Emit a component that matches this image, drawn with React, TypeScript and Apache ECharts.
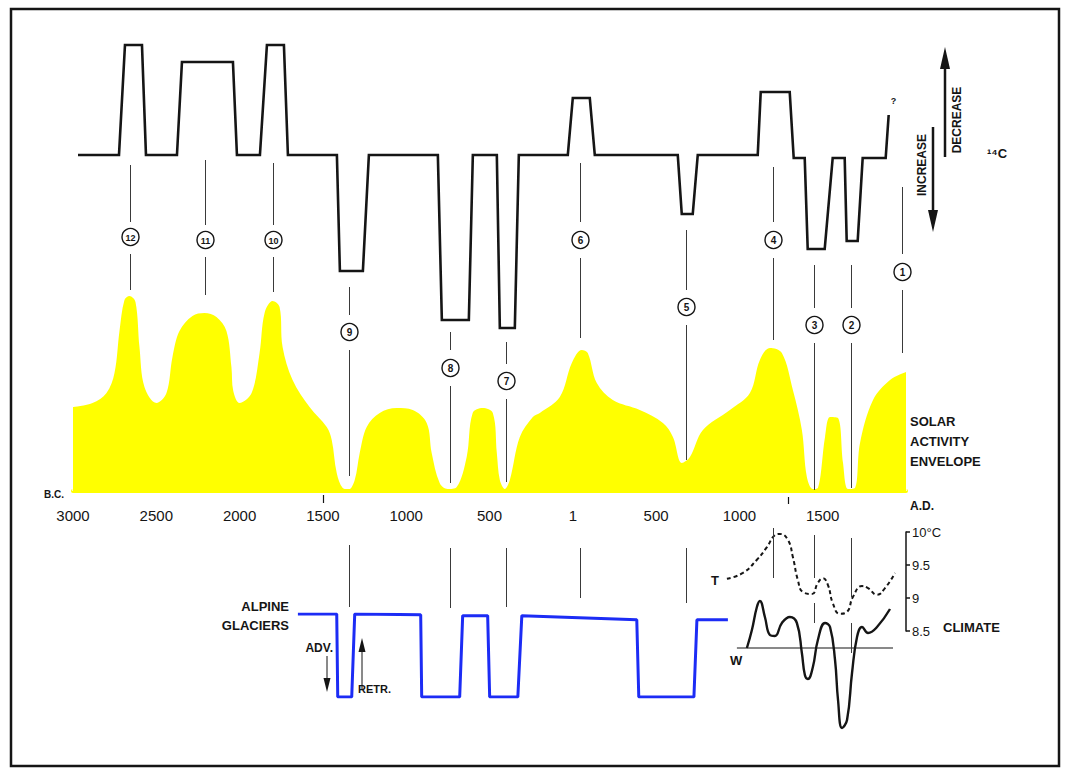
import React, { useEffect, useRef } from "react";
import * as echarts from "echarts";

// ---- Data -------------------------------------------------------------
// Years are signed (B.C. negative, A.D. positive).

// Radiocarbon (14C) deviation profile, arbitrary units (up = decrease in 14C)
const c14Profile: [number, number][] = [
  [-2970, 0], [-2724, 0], [-2688, 11], [-2586, 11], [-2562, 0],
  [-2376, 0], [-2346, 9.3], [-2040, 9.3], [-2016, 0],
  [-1878, 0], [-1836, 11], [-1734, 11], [-1710, 0],
  [-1416, 0], [-1398, -11.6], [-1260, -11.6], [-1224, 0],
  [-810, 0], [-786, -16.5], [-624, -16.5], [-600, 0],
  [-456, 0], [-438, -17.3], [-348, -17.3], [-324, 0],
  [-30, 0], [0, 5.7], [102, 5.7], [132, 0],
  [630, 0], [654, -5.9], [720, -5.9], [750, 0],
  [1110, 0], [1128, 6.3], [1302, 6.3], [1326, -0.3],
  [1392, -0.3], [1410, -9.4], [1512, -9.4], [1560, -0.3],
  [1632, -0.3], [1644, -8.6], [1710, -8.6], [1740, -0.3],
  [1878, -0.3], [1896, 4],
];

// Solar activity envelope (relative, 0–100)
const solarEnvelope: [number, number][] = [
  [-3000, 42], [-2883, 44], [-2799, 49], [-2751, 59], [-2721, 80], [-2691, 95.5],
  [-2661, 97.5], [-2625, 94.5], [-2601, 72], [-2571, 52], [-2499, 44], [-2439, 49],
  [-2403, 67], [-2361, 80], [-2283, 87.5], [-2211, 89], [-2139, 87], [-2079, 80],
  [-2049, 62], [-2038, 50], [-2000, 44], [-1928, 49], [-1880, 69], [-1850, 89],
  [-1802, 95], [-1760, 92], [-1742, 72], [-1682, 55.5], [-1580, 42], [-1477, 32],
  [-1447, 25.5], [-1417, 9], [-1381, 1.5], [-1345, 0.8], [-1309, 5.5], [-1279, 19],
  [-1237, 32], [-1159, 39], [-1057, 41.5], [-961, 40.5], [-877, 34], [-847, 19],
  [-799, 4], [-751, 1], [-697, 2], [-637, 17], [-601, 39], [-541, 41.5], [-480, 39],
  [-456, 19], [-438, 5.5], [-408, 1], [-378, 5.5], [-318, 27], [-240, 37], [-198, 39],
  [-78, 47], [-6, 64], [54, 70.5], [90, 69], [144, 54], [240, 45.5], [402, 40.5],
  [541, 34], [601, 27], [655, 14], [703, 17], [781, 30.5], [943, 40.5], [1063, 49],
  [1123, 65.5], [1183, 71.5], [1255, 69], [1321, 50.5], [1375, 30.5], [1405, 7],
  [1441, 1], [1471, 1.5], [1514, 27], [1544, 37], [1592, 36.5], [1622, 14],
  [1652, 1], [1694, 1.5], [1724, 24], [1802, 45.5], [1904, 55.5], [2000, 59.5],
];

// Alpine glaciers: 1 = retreated, 0 = advanced
const glacierState: [number, number][] = [
  [-1650, 1], [-1417, 1], [-1411, 0], [-1327, 0], [-1309, 1],
  [-913, 0.99], [-907, 0], [-679, 0], [-661, 0.98],
  [-511, 0.98], [-499, 0], [-330, 0], [-306, 0.98],
  [384, 0.93], [396, 0], [727, 0], [745, 0.93], [931, 0.93],
];

// Climate: temperature T (°C)
const temperatureT: [number, number][] = [
  [925, 9.29], [1021, 9.38], [1105, 9.58], [1165, 9.77], [1213, 9.95], [1243, 9.97],
  [1291, 9.88], [1321, 9.62], [1351, 9.27], [1381, 9.09], [1435, 9.06], [1471, 9.23],
  [1501, 9.3], [1531, 9.2], [1561, 8.92], [1603, 8.76], [1646, 8.79], [1682, 9.02],
  [1736, 9.18], [1772, 9.15], [1826, 9.05], [1874, 9.15], [1934, 9.38],
];

// Climate: W index (relative to its reference line)
const indexW: [number, number][] = [
  [1045, 0], [1075, 1.8], [1105, 4.1], [1123, 4.7], [1153, 3.1], [1183, 1.3],
  [1213, 1.2], [1255, 2.5], [1303, 3.1], [1345, 2.5], [1375, -0.5], [1393, -2.7],
  [1411, -3.1], [1441, -1.9], [1471, 0.8], [1514, 2.5], [1544, 2.1], [1574, -1.2],
  [1592, -5.2], [1616, -8], [1646, -7.2], [1676, -2.5], [1706, 1.1], [1736, 2.1],
  [1772, 1.5], [1826, 2.1], [1904, 3.9],
];
const indexWReference: [number, number][] = [[985, 0], [1922, 0]];

// Numbered anomalies and their years
const eventIds = [12, 11, 10, 9, 8, 7, 6, 5, 4, 3, 2, 1];
const eventYears = [-2660, -2210, -1800, -1345, -740, -400, 45, 680, 1200, 1450, 1672, 1975];

// Reference marks on the time axis
const axisMarkYears = [-1500, 1290];

const temperatureTicks = { min: 8.5, max: 10, step: 0.5 };

// ---- Layout (pixels) ---------------------------------------------------
const FONT = '"Liberation Sans", Arial, Helvetica, sans-serif';
const INK = "#151515";
const GRID_LEFT = 73;
const GRID_WIDTH = 833;

// circle centre and connector segments for each numbered anomaly
const EVENT_LAYOUT: { cy: number; segs: [number, number][] }[] = [
  { cy: 237, segs: [[165, 222], [254, 290]] },
  { cy: 240, segs: [[160, 225], [257, 295]] },
  { cy: 240, segs: [[163, 225], [257, 292]] },
  { cy: 332, segs: [[287, 315], [350, 476], [545, 607]] },
  { cy: 368, segs: [[332, 350], [386, 483], [548, 608]] },
  { cy: 381, segs: [[342, 364], [399, 482], [548, 607]] },
  { cy: 240, segs: [[163, 222], [258, 338], [548, 598]] },
  { cy: 307, segs: [[230, 290], [325, 460], [548, 603]] },
  { cy: 240, segs: [[167, 222], [258, 340], [528, 578]] },
  { cy: 325, segs: [[265, 308], [343, 490], [535, 578], [603, 623]] },
  { cy: 325, segs: [[265, 308], [343, 488], [538, 597], [623, 653]] },
  { cy: 272, segs: [[187, 254], [290, 353]] },
];
const AXIS_MARK_LAYOUT: [number, number][] = [[495, 503], [497, 504]];

function yearLabel(v: number): string {
  if (v === 0) return "1";
  if (v % 500 === 0 && v < 2000) return String(Math.abs(v));
  return "";
}

function arrow(x: number, y0: number, tip: number, head: number, half: number, width: number) {
  const dir = tip > y0 ? 1 : -1;
  const base = tip - dir * head;
  return [
    { type: "line", silent: true, shape: { x1: x, y1: y0, x2: x, y2: base }, style: { stroke: INK, lineWidth: width } },
    { type: "polygon", silent: true, shape: { points: [[x, tip], [x - half, base], [x + half, base]] }, style: { fill: INK } },
  ];
}

function label(text: string, x: number, y: number, opts: any = {}) {
  return {
    type: "text",
    silent: true,
    x,
    y,
    rotation: opts.rotation || 0,
    style: {
      text,
      fill: INK,
      fontFamily: FONT,
      fontSize: opts.size || 13,
      fontWeight: opts.weight || "bold",
      align: opts.align || "left",
      verticalAlign: "middle",
    },
  };
}

function xAxisFor(gridIndex: number) {
  return { type: "value", gridIndex, min: -3000, max: 2000, interval: 100, show: false };
}

export default function App() {
  const ref = useRef<HTMLDivElement>(null);

  useEffect(() => {
    if (!ref.current) return;
    const chart = echarts.init(ref.current, undefined, { renderer: "svg" });

    const option: any = {
      animation: false,
      backgroundColor: "#ffffff",
      grid: [
        { left: GRID_LEFT, width: GRID_WIDTH, top: 35, height: 300 }, // 14C
        { left: GRID_LEFT, width: GRID_WIDTH, top: 291, height: 200 }, // solar envelope
        { left: GRID_LEFT, width: GRID_WIDTH, top: 614, height: 83 }, // glaciers
        { left: GRID_LEFT, width: GRID_WIDTH, top: 532, height: 99 }, // temperature
        { left: GRID_LEFT, width: GRID_WIDTH, top: 598, height: 140 }, // W index
      ],
      xAxis: [
        xAxisFor(0),
        {
          type: "value",
          gridIndex: 1,
          min: -3000,
          max: 2000,
          interval: 100,
          offset: 4,
          axisLine: { lineStyle: { color: "#ffff00", width: 4 } },
          axisTick: { inside: true, length: 5, lineStyle: { color: "#ffffff", width: 1.5 } },
          axisLabel: { formatter: yearLabel, color: INK, fontSize: 15, fontFamily: FONT, margin: 13 },
          splitLine: { show: false },
        },
        xAxisFor(2),
        xAxisFor(3),
        xAxisFor(4),
      ],
      yAxis: [
        { type: "value", gridIndex: 0, min: -18, max: 12, show: false },
        { type: "value", gridIndex: 1, min: 0, max: 100, show: false },
        { type: "value", gridIndex: 2, min: 0, max: 1, show: false },
        {
          type: "value",
          gridIndex: 3,
          min: temperatureTicks.min,
          max: temperatureTicks.max,
          interval: temperatureTicks.step,
          position: "right",
          axisLine: { show: true, onZero: false, lineStyle: { color: INK, width: 1.5 } },
          axisTick: { show: true, length: 4, lineStyle: { color: INK, width: 1.5 } },
          axisLabel: {
            color: INK,
            fontSize: 13,
            fontFamily: FONT,
            margin: 6,
            formatter: (v: number) => (v === 10 ? "10°C" : String(v)),
          },
          splitLine: { show: false },
        },
        { type: "value", gridIndex: 4, min: -9, max: 5, show: false },
      ],
      series: [
        {
          name: "Solar activity envelope",
          type: "line",
          xAxisIndex: 1,
          yAxisIndex: 1,
          data: solarEnvelope,
          smooth: 0.35,
          symbol: "none",
          lineStyle: { width: 0, color: "#ffff00" },
          areaStyle: { color: "#ffff00", opacity: 1 },
          z: 1,
        },
        {
          name: "14C",
          type: "line",
          xAxisIndex: 0,
          yAxisIndex: 0,
          data: c14Profile,
          symbol: "none",
          lineStyle: { color: INK, width: 2.6, join: "miter" },
          endLabel: {
            show: true,
            formatter: "?",
            offset: [-6, -14],
            fontSize: 9,
            fontWeight: "bold",
            color: INK,
            fontFamily: FONT,
          },
          z: 4,
        },
        {
          name: "Alpine glaciers",
          type: "line",
          xAxisIndex: 2,
          yAxisIndex: 2,
          data: glacierState,
          symbol: "none",
          lineStyle: { color: "#1c2cf5", width: 3 },
          z: 4,
        },
        {
          name: "T",
          type: "line",
          xAxisIndex: 3,
          yAxisIndex: 3,
          data: temperatureT,
          smooth: 0.5,
          symbol: "none",
          lineStyle: { color: INK, width: 2, type: [4, 3] },
          z: 4,
        },
        {
          name: "W",
          type: "line",
          xAxisIndex: 4,
          yAxisIndex: 4,
          data: indexW,
          smooth: 0.45,
          symbol: "none",
          lineStyle: { color: INK, width: 2.4 },
          z: 4,
        },
        {
          name: "W reference",
          type: "line",
          xAxisIndex: 4,
          yAxisIndex: 4,
          data: indexWReference,
          symbol: "none",
          lineStyle: { color: INK, width: 1.2 },
          z: 3,
        },
        {
          name: "Anomalies",
          type: "custom",
          xAxisIndex: 0,
          yAxisIndex: 0,
          data: eventYears.map((y, i) => [y, i]),
          z: 6,
          renderItem: (params: any, api: any) => {
            const i = params.dataIndex;
            const x = Math.round(api.coord([api.value(0), 0])[0]) + 0.5;
            const lay = EVENT_LAYOUT[i];
            const children: any[] = lay.segs.map(([y1, y2]) => ({
              type: "line",
              shape: { x1: x, y1, x2: x, y2 },
              style: { stroke: "#3a3a3a", lineWidth: 1 },
            }));
            children.push({
              type: "circle",
              shape: { cx: x, cy: lay.cy, r: 8.5 },
              style: { fill: "#ffffff", stroke: INK, lineWidth: 1.4 },
            });
            children.push({
              type: "text",
              x,
              y: lay.cy + 0.5,
              style: {
                text: String(eventIds[i]),
                fill: INK,
                fontFamily: FONT,
                fontSize: eventIds[i] >= 10 ? 9 : 10,
                fontWeight: "bold",
                align: "center",
                verticalAlign: "middle",
              },
            });
            return { type: "group", children };
          },
        },
        {
          name: "Axis marks",
          type: "custom",
          xAxisIndex: 1,
          yAxisIndex: 1,
          data: axisMarkYears.map((y, i) => [y, i]),
          z: 6,
          renderItem: (params: any, api: any) => {
            const x = Math.round(api.coord([api.value(0), 0])[0]) + 0.5;
            const [y1, y2] = AXIS_MARK_LAYOUT[params.dataIndex];
            return { type: "line", shape: { x1: x, y1, x2: x, y2 }, style: { stroke: INK, lineWidth: 1.2 } };
          },
        },
      ],
      graphic: [
        {
          type: "rect",
          silent: true,
          shape: { x: 11, y: 9, width: 1048, height: 757 },
          style: { fill: "none", stroke: INK, lineWidth: 2.5 },
        },
        ...arrow(945, 157, 47, 22, 5, 2.5),
        ...arrow(933, 127, 232, 22, 5, 2.5),
        ...arrow(327, 656, 692, 14, 3.5, 1),
        ...arrow(362, 690, 638, 14, 3.5, 1),
        label("DECREASE", 957, 120, { rotation: Math.PI / 2, size: 12, align: "center" }),
        label("INCREASE", 922, 165, { rotation: Math.PI / 2, size: 12, align: "center" }),
        label("¹⁴C", 987, 153, { size: 13 }),
        label("SOLAR", 910, 421),
        label("ACTIVITY", 910, 441),
        label("ENVELOPE", 910, 461),
        label("B.C.", 44, 494, { size: 10 }),
        label("A.D.", 910, 506, { size: 12 }),
        label("ALPINE", 289, 606, { align: "right" }),
        label("GLACIERS", 289, 625, { align: "right" }),
        label("ADV.", 333, 648, { align: "right", size: 12 }),
        label("RETR.", 358, 689, { size: 11 }),
        label("T", 711, 580, { size: 13 }),
        label("W", 730, 660, { size: 13 }),
        label("CLIMATE", 943, 627),
      ],
    };

    chart.setOption(option);
    return () => chart.dispose();
  }, []);

  return (
    <div
      ref={ref}
      style={{ position: "fixed", left: 0, top: 0, width: 1071, height: 771, background: "#ffffff" }}
    />
  );
}
